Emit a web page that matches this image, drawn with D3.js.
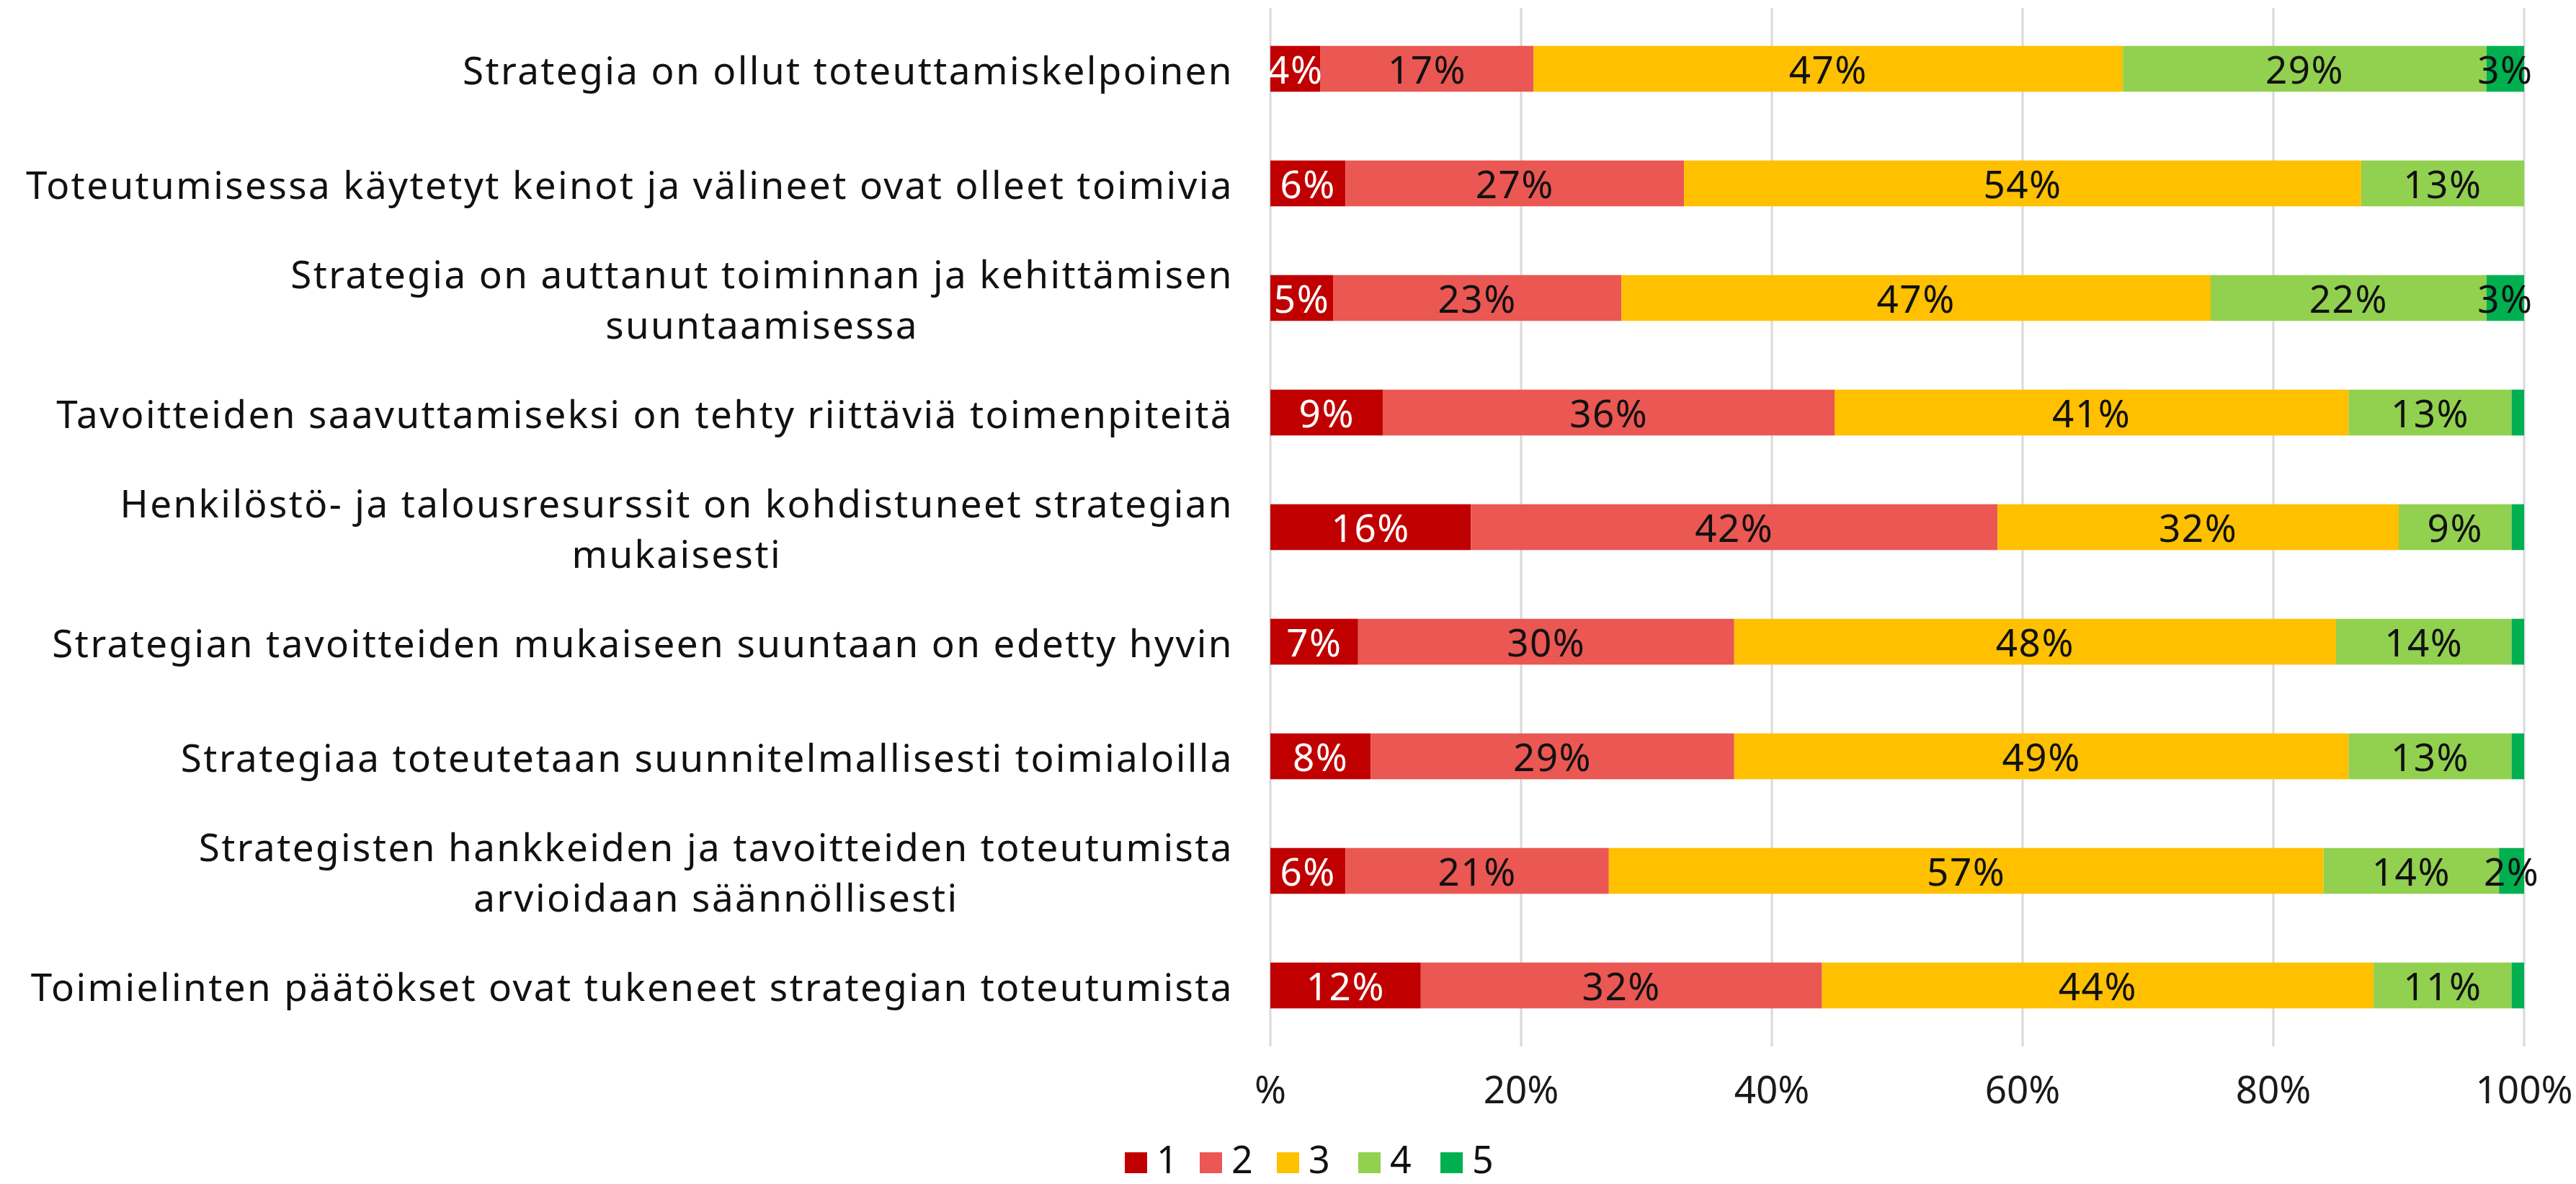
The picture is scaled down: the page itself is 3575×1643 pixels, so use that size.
<!DOCTYPE html>
<html>
<head>
<meta charset="utf-8">
<script src="https://cdn.jsdelivr.net/npm/d3@7"></script>
<style>
  body { margin: 0; background: #fff; }
  svg { display: block; font-family: "Noto Sans", "Open Sans", sans-serif; }
</style>
</head>
<body>
<div id="chart"></div>
<script>
// categories (already wrapped into lines like the original)
const categories = [
  ["Strategia on ollut toteuttamiskelpoinen"],
  ["Toteutumisessa käytetyt keinot ja välineet ovat olleet toimivia"],
  ["Strategia on auttanut toiminnan ja kehittämisen", "suuntaamisessa"],
  ["Tavoitteiden saavuttamiseksi on tehty riittäviä toimenpiteitä"],
  ["Henkilöstö- ja talousresurssit on kohdistuneet strategian", "mukaisesti"],
  ["Strategian tavoitteiden mukaiseen suuntaan on edetty hyvin"],
  ["Strategiaa toteutetaan suunnitelmallisesti toimialoilla"],
  ["Strategisten hankkeiden ja tavoitteiden toteutumista", "arvioidaan säännöllisesti"],
  ["Toimielinten päätökset ovat tukeneet strategian toteutumista"]
];
const seriesNames = ["1", "2", "3", "4", "5"];
const s1 = [4, 6, 5, 9, 16, 7, 8, 6, 12];
const s2 = [17, 27, 23, 36, 42, 30, 29, 21, 32];
const s3 = [47, 54, 47, 41, 32, 48, 49, 57, 44];
const s4 = [29, 13, 22, 13, 9, 14, 13, 14, 11];
const s5 = [3, 0, 3, 1, 1, 1, 1, 2, 1];
const tickValues = [0, 20, 40, 60, 80, 100];
const tickLabels = ["%", "20%", "40%", "60%", "80%", "100%"];
const colors = ["#C00000", "#EB5752", "#FFC000", "#92D050", "#00B050"];

const W = 3575, H = 1643;
const margin = { top: 16, bottom: 196, left: 1763, right: 72 };
const fontSize = 53;

const svg = d3.select("#chart").append("svg")
  .attr("width", W).attr("height", H);

const x = d3.scaleLinear().domain([0, 100]).range([margin.left, W - margin.right]);
const y = d3.scaleBand().domain(d3.range(categories.length))
  .range([margin.top, H - margin.bottom]).paddingInner(0.6).paddingOuter(0.3);

// gridlines
svg.append("g").selectAll("line").data(tickValues).join("line")
  .attr("x1", d => x(d)).attr("x2", d => x(d))
  .attr("y1", margin.top - 5).attr("y2", H - margin.bottom + 5)
  .attr("stroke", "#D9D9D9").attr("stroke-width", 3);

// tick labels
svg.append("g").selectAll("text").data(tickValues).join("text")
  .attr("x", d => x(d)).attr("y", 1510)
  .attr("text-anchor", "middle").attr("dominant-baseline", "central")
  .attr("font-size", fontSize).attr("fill", "#1a1a1a")
  .text((d, i) => tickLabels[i]);

// stacked data
const rows = categories.map((c, i) => {
  const vals = [s1[i], s2[i], s3[i], s4[i], s5[i]];
  let acc = 0;
  return vals.map((v, k) => {
    const seg = { row: i, k: k, v: v, x0: acc, x1: acc + v };
    acc += v;
    return seg;
  });
});
const segs = rows.flat();

svg.append("g").selectAll("rect").data(segs.filter(d => d.v > 0)).join("rect")
  .attr("x", d => x(d.x0)).attr("width", d => x(d.x1) - x(d.x0))
  .attr("y", d => y(d.row)).attr("height", y.bandwidth())
  .attr("fill", d => colors[d.k]);

svg.append("g").selectAll("text").data(segs.filter(d => d.v >= 2)).join("text")
  .attr("x", d => x((d.x0 + d.x1) / 2)).attr("y", d => y(d.row) + y.bandwidth() / 2)
  .attr("text-anchor", "middle").attr("dominant-baseline", "central")
  .attr("font-size", fontSize).attr("letter-spacing", 1.5)
  .attr("fill", d => d.k === 0 ? "#ffffff" : "#111111")
  .text(d => d.v + "%");

// category labels: longest line right aligned, lines centred on each other
const labelRight = 1712, lineH = 70;
const cat = svg.append("g");
categories.forEach((lines, i) => {
  const t = cat.append("text")
    .attr("font-size", fontSize).attr("letter-spacing", 2.4).attr("fill", "#111111")
    .attr("text-anchor", "middle").attr("dominant-baseline", "central");
  const cy = y(i) + y.bandwidth() / 2;
  const spans = lines.map((ln, j) => t.append("tspan")
    .attr("y", cy + (j - (lines.length - 1) / 2) * lineH).text(ln));
  const maxW = d3.max(spans, s => s.node().getComputedTextLength());
  spans.forEach(s => s.attr("x", labelRight - maxW / 2));
});

// legend
const legendX = [1561, 1665, 1772, 1885, 1999];
const lg = svg.append("g").selectAll("g").data(seriesNames).join("g")
  .attr("transform", (d, i) => `translate(${legendX[i]},1599)`);
lg.append("rect").attr("width", 31).attr("height", 29).attr("fill", (d, i) => colors[i]);
lg.append("text").attr("x", 44).attr("y", 29)
  .attr("font-size", 52).attr("fill", "#111111")
  .text(d => d);
</script>
</body>
</html>
